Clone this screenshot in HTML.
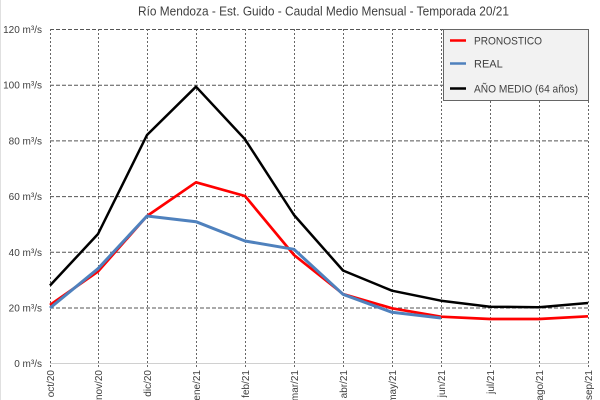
<!DOCTYPE html>
<html><head><meta charset="utf-8"><style>
html,body{margin:0;padding:0;background:#fff;}
svg{display:block;font-family:"Liberation Sans",sans-serif;}
</style></head><body>
<svg width="600" height="400" viewBox="0 0 600 400" xmlns="http://www.w3.org/2000/svg">
<rect x="0" y="0" width="600" height="400" fill="#fff"/>
<line x1="0.5" y1="0" x2="0.5" y2="400" stroke="#e0e0e0" stroke-width="1"/>
<text x="138" y="15.3" font-size="13" fill="#404040" textLength="371" lengthAdjust="spacingAndGlyphs">Río Mendoza - Est. Guido - Caudal Medio Mensual - Temporada 20/21</text>
<!-- horizontal grid -->
<g stroke="#555" stroke-width="1" stroke-dasharray="4,2">
<line x1="50" y1="29.5" x2="589" y2="29.5"/>
<line x1="50" y1="85.2" x2="589" y2="85.2"/>
<line x1="50" y1="140.9" x2="589" y2="140.9"/>
<line x1="50" y1="196.6" x2="589" y2="196.6"/>
<line x1="50" y1="252.3" x2="589" y2="252.3"/>
<line x1="50" y1="308" x2="589" y2="308"/>
</g>
<!-- vertical grid -->
<g stroke="#666" stroke-width="1" stroke-dasharray="2,2">
<line x1="50.5" y1="29" x2="50.5" y2="368"/>
<line x1="98.5" y1="29" x2="98.5" y2="368"/>
<line x1="147.5" y1="29" x2="147.5" y2="368"/>
<line x1="196.5" y1="29" x2="196.5" y2="368"/>
<line x1="245.5" y1="29" x2="245.5" y2="368"/>
<line x1="294.5" y1="29" x2="294.5" y2="368"/>
<line x1="343.5" y1="29" x2="343.5" y2="368"/>
<line x1="392.5" y1="29" x2="392.5" y2="368"/>
<line x1="441.5" y1="29" x2="441.5" y2="368"/>
<line x1="490.5" y1="29" x2="490.5" y2="368"/>
<line x1="539.5" y1="29" x2="539.5" y2="368"/>
<line x1="588.5" y1="29" x2="588.5" y2="368"/>
</g>
<line x1="50" y1="363.5" x2="589" y2="363.5" stroke="#d0d0d0" stroke-width="1"/>
<!-- y labels -->
<g font-size="10" fill="#404040" text-anchor="end">
<text x="42" y="33">120 m³/s</text>
<text x="42" y="88.7">100 m³/s</text>
<text x="42" y="144.4">80 m³/s</text>
<text x="42" y="200.1">60 m³/s</text>
<text x="42" y="255.8">40 m³/s</text>
<text x="42" y="311.5">20 m³/s</text>
<text x="42" y="367">0 m³/s</text>
</g>
<!-- x labels -->
<g font-size="10" fill="#404040" text-anchor="end">
<text transform="translate(54,370) rotate(-90)">oct/20</text>
<text transform="translate(102,370) rotate(-90)">nov/20</text>
<text transform="translate(151,370) rotate(-90)">dic/20</text>
<text transform="translate(200,370) rotate(-90)">ene/21</text>
<text transform="translate(249,370) rotate(-90)">feb/21</text>
<text transform="translate(298,370) rotate(-90)">mar/21</text>
<text transform="translate(347,370) rotate(-90)">abr/21</text>
<text transform="translate(396,370) rotate(-90)">may/21</text>
<text transform="translate(445,370) rotate(-90)">jun/21</text>
<text transform="translate(494,370) rotate(-90)">jul/21</text>
<text transform="translate(543,370) rotate(-90)">ago/21</text>
<text transform="translate(592,370) rotate(-90)">sep/21</text>
</g>
<!-- series -->
<polyline fill="none" stroke="#000" stroke-width="2.5" stroke-linejoin="round" points="50,285.5 98,234 147,135 196,86.7 245,139.3 294,215 343,270.5 392,290.7 441,300.7 490,306.7 539,307.3 588,303"/>
<polyline fill="none" stroke="#ff0000" stroke-width="2.7" stroke-linejoin="round" points="50,305 98,271.5 147,216 196,182.3 245,196 294,255 343,294 392,308.3 441,316.7 490,319 539,319 588,316.3"/>
<polyline fill="none" stroke="#4f81bd" stroke-width="3" stroke-linejoin="round" points="50,308 98,268.7 147,216 196,221.7 245,241 294,249.3 343,294.3 392,312.3 441,318"/>
<!-- legend -->
<rect x="443.5" y="29.5" width="145" height="71" fill="#f2f2f2" stroke="#666" stroke-width="1"/>
<line x1="450" y1="40.5" x2="466" y2="40.5" stroke="#ff0000" stroke-width="2.5"/>
<line x1="450" y1="63.5" x2="466" y2="63.5" stroke="#4f81bd" stroke-width="2.5"/>
<line x1="450" y1="88.5" x2="466" y2="88.5" stroke="#000" stroke-width="2.5"/>
<g font-size="11" fill="#404040">
<text x="474" y="44.5" textLength="68" lengthAdjust="spacingAndGlyphs">PRONOSTICO</text>
<text x="474" y="67.5">REAL</text>
<text x="474" y="92.5" textLength="104" lengthAdjust="spacingAndGlyphs">AÑO MEDIO (64 años)</text>
</g>
</svg>
</body></html>
